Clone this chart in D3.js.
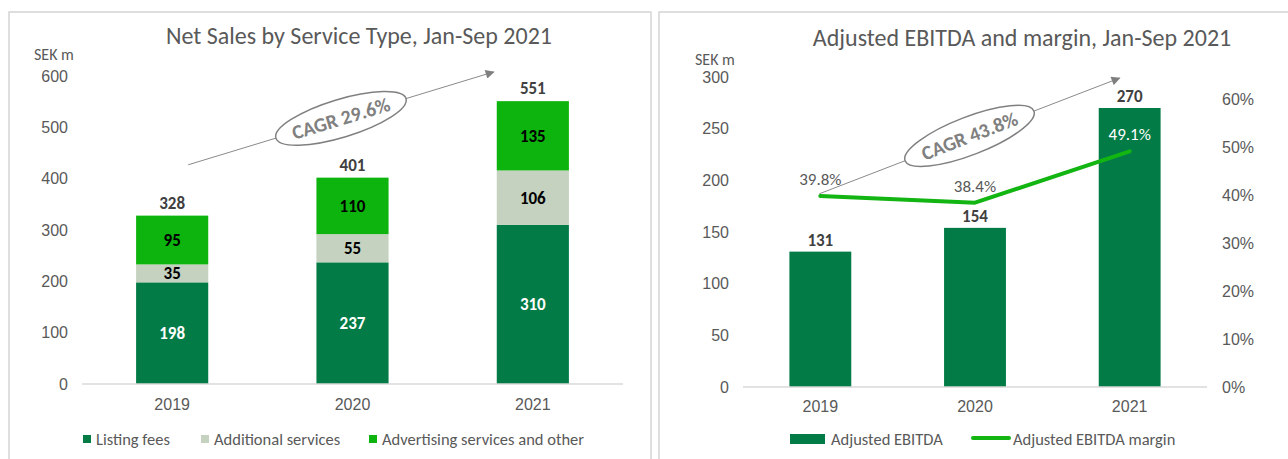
<!DOCTYPE html>
<html>
<head>
<meta charset="utf-8">
<script src="https://cdn.jsdelivr.net/npm/d3@7"></script>
<style>
  html, body { margin: 0; padding: 0; background: #fff; }
  svg { display: block; font-family: Carlito, Lato, "Open Sans", sans-serif; }
</style>
</head>
<body>
<svg id="chart" width="1288" height="459"></svg>
<script>
// ---------- DATA ----------
const years = ["2019", "2020", "2021"];
const listingFees = [198, 237, 310];
const additionalServices = [35, 55, 106];
const advertisingOther = [95, 110, 135];
const netSalesTotals = [328, 401, 551];
const salesTicks = [0, 100, 200, 300, 400, 500, 600];
const salesSeriesNames = ["Listing fees", "Additional services", "Advertising services and other"];
const salesCagr = "CAGR 29.6%";

const adjEbitda = [131, 154, 270];
const ebitdaMargin = [39.8, 38.4, 49.1];
const ebitdaTicks = [0, 50, 100, 150, 200, 250, 300];
const marginTicks = [0, 10, 20, 30, 40, 50, 60];
const ebitdaSeriesNames = ["Adjusted EBITDA", "Adjusted EBITDA margin"];
const ebitdaCagr = "CAGR 43.8%";

// ---------- STYLE ----------
const C_DARK = "#027B46";
const C_LIGHT = "#C4D2BF";
const C_BRIGHT = "#0DB40D";
const C_LINE = "#12B512";
const C_TEXT = "#595959";
const C_LABEL = "#404040";
const TICK_SIZE = 16;
const LEGEND_SIZE = 16.5;
const LABEL_SIZE = 17;
const TITLE_SIZE = 24;

const svg = d3.select("#chart");

// panel borders
svg.append("rect").attr("x", 9).attr("y", 12).attr("width", 642).attr("height", 460)
  .attr("fill", "none").attr("stroke", "#d4d4d4").attr("stroke-width", 1.5);
svg.append("rect").attr("x", 659).attr("y", 12).attr("width", 640).attr("height", 460)
  .attr("fill", "none").attr("stroke", "#d4d4d4").attr("stroke-width", 1.5);

const defs = svg.append("defs");
defs.append("marker").attr("id", "arrowhead").attr("viewBox", "0 0 10 10")
  .attr("refX", 9).attr("refY", 5).attr("markerWidth", 10).attr("markerHeight", 9)
  .attr("markerUnits", "userSpaceOnUse").attr("orient", "auto")
  .append("path").attr("d", "M0,0 L10,5 L0,10 Z").attr("fill", "#7f7f7f");

function cagrAnnotation(g, x1, y1, x2, y2, rx, ry, label) {
  g.append("line").attr("x1", x1).attr("y1", y1).attr("x2", x2).attr("y2", y2)
    .attr("stroke", "#8a8a8a").attr("stroke-width", 1).attr("marker-end", "url(#arrowhead)");
  const cx = (x1 + x2) / 2, cy = (y1 + y2) / 2;
  const ang = Math.atan2(y2 - y1, x2 - x1) * 180 / Math.PI;
  const a = g.append("g").attr("transform", `translate(${cx},${cy}) rotate(${ang})`);
  a.append("ellipse").attr("rx", rx).attr("ry", ry).attr("fill", "#fff")
    .attr("stroke", "#808080").attr("stroke-width", 1.5);
  a.append("text").attr("text-anchor", "middle").attr("dy", "0.35em")
    .attr("fill", "#808080").attr("font-size", 20).attr("font-weight", "bold")
    .text(label);
}

// ================= LEFT CHART =================
{
  const g = svg.append("g");
  const x = d3.scaleBand().domain(years).range([82, 623]).paddingInner(0.6).paddingOuter(0.3);
  const y = d3.scaleLinear().domain([0, 600]).range([384, 76]);

  g.append("text").attr("x", 359).attr("y", 36).attr("dy", "0.35em").attr("text-anchor", "middle")
    .attr("font-size", TITLE_SIZE).attr("fill", C_TEXT).text("Net Sales by Service Type, Jan-Sep 2021");
  g.append("text").attr("x", 34).attr("y", 54).attr("dy", "0.35em").attr("text-anchor", "start")
    .attr("font-size", TICK_SIZE).attr("fill", C_TEXT).text("SEK m");

  const yAxis = g.append("g").attr("transform", "translate(68,0)")
    .call(d3.axisLeft(y).tickValues(salesTicks).tickSize(0).tickPadding(0));
  yAxis.select(".domain").remove();
  yAxis.selectAll("text").attr("font-size", TICK_SIZE).attr("fill", C_TEXT).attr("font-family", null);

  const rows = years.map((yr, i) => ({ year: yr, listing: listingFees[i], additional: additionalServices[i], advertising: advertisingOther[i] }));
  const keys = ["listing", "additional", "advertising"];
  const colors = [C_DARK, C_LIGHT, C_BRIGHT];
  const labelColors = ["#ffffff", "#000000", "#000000"];
  const stack = d3.stack().keys(keys)(rows);

  stack.forEach((layer, k) => {
    g.append("g").selectAll("rect").data(layer).join("rect")
      .attr("x", d => x(d.data.year)).attr("width", x.bandwidth())
      .attr("y", d => y(d[1])).attr("height", d => y(d[0]) - y(d[1]))
      .attr("fill", colors[k]);
    g.append("g").selectAll("text").data(layer).join("text")
      .attr("x", d => x(d.data.year) + x.bandwidth() / 2)
      .attr("y", d => y((d[0] + d[1]) / 2)).attr("dy", "0.35em")
      .attr("text-anchor", "middle").attr("font-size", LABEL_SIZE).attr("font-weight", "bold")
      .attr("fill", labelColors[k]).text(d => d[1] - d[0]);
  });

  g.append("line").attr("x1", 82).attr("x2", 623).attr("y1", y(0)).attr("y2", y(0))
    .attr("stroke", "#d9d9d9").attr("stroke-width", 1.5);

  g.append("g").selectAll("text").data(years).join("text")
    .attr("x", (d) => x(d) + x.bandwidth() / 2).attr("y", (d, i) => y(netSalesTotals[i]) - 13).attr("dy", "0.35em")
    .attr("text-anchor", "middle").attr("font-size", LABEL_SIZE).attr("font-weight", "bold")
    .attr("fill", C_LABEL).text((d, i) => netSalesTotals[i]);

  const xAxis = g.append("g").attr("transform", `translate(0,${y(0)})`)
    .call(d3.axisBottom(x).tickSize(0).tickPadding(15));
  xAxis.select(".domain").remove();
  xAxis.selectAll("text").attr("font-size", TICK_SIZE).attr("fill", C_TEXT).attr("font-family", null);

  // CAGR annotation
  cagrAnnotation(g, x("2019") + x.bandwidth() / 2 + 16, y(427), x("2021") - 3, y(608), 68, 19, salesCagr);

  // legend
  const legX = [83, 201, 369];
  salesSeriesNames.forEach((name, i) => {
    g.append("rect").attr("x", legX[i]).attr("y", 435).attr("width", 8).attr("height", 8).attr("fill", colors[i]);
    g.append("text").attr("x", legX[i] + 13).attr("y", 439).attr("dy", "0.35em")
      .attr("font-size", LEGEND_SIZE).attr("fill", C_TEXT).text(name);
  });
}

// ================= RIGHT CHART =================
{
  const g = svg.append("g");
  const x = d3.scaleBand().domain(years).range([743, 1207]).paddingInner(0.6).paddingOuter(0.3);
  const y = d3.scaleLinear().domain([0, 300]).range([387, 77]);
  const y2 = d3.scaleLinear().domain([0, 60]).range([387, 99]);

  g.append("text").attr("x", 1022).attr("y", 38).attr("dy", "0.35em").attr("text-anchor", "middle")
    .attr("font-size", TITLE_SIZE).attr("fill", C_TEXT).text("Adjusted EBITDA and margin, Jan-Sep 2021");
  g.append("text").attr("x", 695).attr("y", 59).attr("dy", "0.35em").attr("text-anchor", "start")
    .attr("font-size", TICK_SIZE).attr("fill", C_TEXT).text("SEK m");

  const yAxis = g.append("g").attr("transform", "translate(729,0)")
    .call(d3.axisLeft(y).tickValues(ebitdaTicks).tickSize(0).tickPadding(0));
  yAxis.select(".domain").remove();
  yAxis.selectAll("text").attr("font-size", TICK_SIZE).attr("fill", C_TEXT).attr("font-family", null);

  const y2Axis = g.append("g").attr("transform", "translate(1222,0)")
    .call(d3.axisRight(y2).tickValues(marginTicks).tickSize(0).tickPadding(0).tickFormat(d => d + "%"));
  y2Axis.select(".domain").remove();
  y2Axis.selectAll("text").attr("font-size", TICK_SIZE).attr("fill", C_TEXT).attr("font-family", null);

  g.append("g").selectAll("rect").data(adjEbitda).join("rect")
    .attr("x", (d, i) => x(years[i])).attr("width", x.bandwidth())
    .attr("y", d => y(d)).attr("height", d => y(0) - y(d)).attr("fill", C_DARK);

  g.append("line").attr("x1", 743).attr("x2", 1207).attr("y1", y(0)).attr("y2", y(0))
    .attr("stroke", "#d9d9d9").attr("stroke-width", 1.5);

  g.append("g").selectAll("text").data(adjEbitda).join("text")
    .attr("x", (d, i) => x(years[i]) + x.bandwidth() / 2).attr("y", d => y(d) - 12).attr("dy", "0.35em")
    .attr("text-anchor", "middle").attr("font-size", LABEL_SIZE).attr("font-weight", "bold")
    .attr("fill", C_LABEL).text(d => d);

  const xAxis = g.append("g").attr("transform", `translate(0,${y(0)})`)
    .call(d3.axisBottom(x).tickSize(0).tickPadding(14));
  xAxis.select(".domain").remove();
  xAxis.selectAll("text").attr("font-size", TICK_SIZE).attr("fill", C_TEXT).attr("font-family", null);

  // CAGR annotation (drawn before line)
  cagrAnnotation(g, x("2019") + x.bandwidth() / 2 - 1, y(187), x("2021") + x.bandwidth() / 2 - 10, y(299), 69, 19, ebitdaCagr);

  const line = d3.line().x((d, i) => x(years[i]) + x.bandwidth() / 2).y(d => y2(d));
  g.append("path").datum(ebitdaMargin).attr("d", line).attr("fill", "none")
    .attr("stroke", C_LINE).attr("stroke-width", 4).attr("stroke-linecap", "round").attr("stroke-linejoin", "round");

  g.append("g").selectAll("text").data(ebitdaMargin).join("text")
    .attr("x", (d, i) => x(years[i]) + x.bandwidth() / 2)
    .attr("y", d => y2(d) - 17).attr("dy", "0.35em")
    .attr("text-anchor", "middle").attr("font-size", LABEL_SIZE)
    .attr("fill", (d, i) => i === 2 ? "#ffffff" : C_TEXT).text(d => d.toFixed(1) + "%");

  // legend
  g.append("rect").attr("x", 790).attr("y", 434).attr("width", 35).attr("height", 10).attr("fill", C_DARK);
  g.append("text").attr("x", 831).attr("y", 439).attr("dy", "0.35em")
    .attr("font-size", LEGEND_SIZE).attr("fill", C_TEXT).text(ebitdaSeriesNames[0]);
  g.append("line").attr("x1", 973).attr("x2", 1009).attr("y1", 438).attr("y2", 438)
    .attr("stroke", C_LINE).attr("stroke-width", 4).attr("stroke-linecap", "round");
  g.append("text").attr("x", 1013).attr("y", 439).attr("dy", "0.35em")
    .attr("font-size", LEGEND_SIZE).attr("fill", C_TEXT).text(ebitdaSeriesNames[1]);
}
</script>
</body>
</html>
